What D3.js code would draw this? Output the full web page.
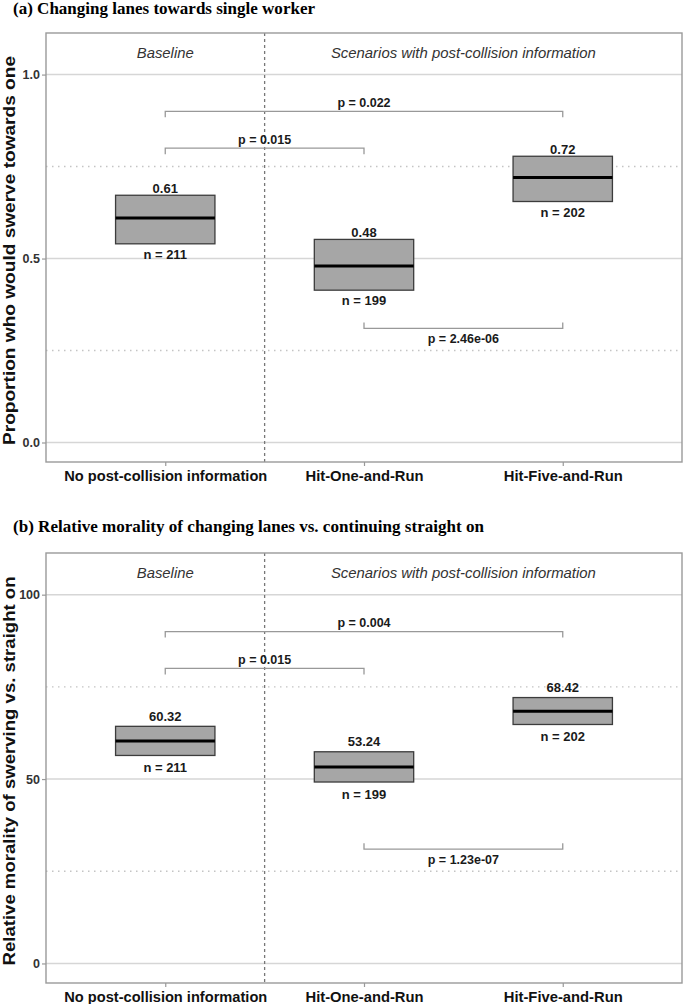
<!DOCTYPE html>
<html><head><meta charset="utf-8">
<script src="https://cdn.jsdelivr.net/npm/d3@7"></script>
<style>body{margin:0;background:#fff}</style>
</head><body><svg id="c" width="685" height="1004"></svg>
<script>
// ---------- data ----------
const categories = ["No post-collision information", "Hit-One-and-Run", "Hit-Five-and-Run"];
const nLabels = ["n = 211", "n = 199", "n = 202"];
const groupLabels = ["Baseline", "Scenarios with post-collision information"];

// panel (a)
const aTitle = "(a) Changing lanes towards single worker";
const aYTitle = "Proportion who would swerve towards one";
const aMean = [0.61, 0.48, 0.72];
const aLower = [0.54, 0.414, 0.655];
const aUpper = [0.672, 0.552, 0.778];
const aMeanLabels = ["0.61", "0.48", "0.72"];
const aLimits = [0, 1.06];
const aTicks = [0, 0.5, 1.0];
const aTickLabels = ["0.0", "0.5", "1.0"];
const aMinor = [0.25, 0.75];
const aPFrom = [0, 0, 1];
const aPTo = [2, 1, 2];
const aPY = [0.9, 0.8, 0.31];
const aPLabels = ["p = 0.022", "p = 0.015", "p = 2.46e-06"];
const aPSide = ["above", "above", "below"];

// panel (b)
const bTitle = "(b) Relative morality of changing lanes vs. continuing straight on";
const bYTitle = "Relative morality of swerving vs. straight on";
const bMean = [60.32, 53.24, 68.42];
const bLower = [56.4, 49.2, 64.8];
const bUpper = [64.3, 57.4, 72.1];
const bMeanLabels = ["60.32", "53.24", "68.42"];
const bLimits = [0, 106];
const bTicks = [0, 50, 100];
const bTickLabels = ["0", "50", "100"];
const bMinor = [25, 75];
const bPFrom = [0, 0, 1];
const bPTo = [2, 1, 2];
const bPY = [90, 80, 31];
const bPLabels = ["p = 0.004", "p = 0.015", "p = 1.23e-07"];
const bPSide = ["above", "above", "below"];

// ---------- drawing ----------
const svg = d3.select("#c");
svg.append("rect").attr("width", 685).attr("height", 1004).attr("fill", "#fff");
const SANS = "'Liberation Sans', Arial, Helvetica, sans-serif";
const SERIF = "'Liberation Serif', 'Times New Roman', serif";
const fit = (sel, len) => sel.attr("textLength", len).attr("lengthAdjust", "spacingAndGlyphs");

function panel(o) {
  const L = 46, R = 682;
  const x = d3.scalePoint().domain(categories).range([L, R]).padding(0.6);
  const step = x.step();
  const span = o.limits[1] - o.limits[0];
  const y = d3.scaleLinear()
    .domain([o.limits[0] - 0.05 * span, o.limits[1] + 0.05 * span])
    .range([o.bottom, o.top]);
  const g = svg.append("g");

  // title
  g.append("text").attr("x", 13).attr("y", o.titleY)
    .attr("font-family", SERIF).attr("font-weight", "bold").attr("font-size", 17)
    .attr("fill", "#000").text(o.title).call(fit, o.titleLen);

  // grid
  g.selectAll(null).data(o.ticks).join("line")
    .attr("x1", L).attr("x2", R).attr("y1", d => y(d)).attr("y2", d => y(d))
    .attr("stroke", "#d6d6d6").attr("stroke-width", 1.5);
  g.selectAll(null).data(o.minor).join("line")
    .attr("x1", L).attr("x2", R).attr("y1", d => y(d)).attr("y2", d => y(d))
    .attr("stroke", "#c4c4c4").attr("stroke-width", 1.4).attr("stroke-dasharray", "1.5,4.5");

  // vertical dashed separator
  const xd = (x(categories[0]) + x(categories[1])) / 2;
  g.append("line").attr("x1", xd).attr("x2", xd).attr("y1", o.top).attr("y2", o.bottom)
    .attr("stroke", "#777").attr("stroke-width", 1.3).attr("stroke-dasharray", "3,3");

  // group annotations
  const annX = [x(categories[0]), (x(categories[1]) + x(categories[2])) / 2];
  const annW = [57, 265];
  g.selectAll(null).data(groupLabels).join("text")
    .attr("x", (d, i) => annX[i]).attr("y", y(o.limits[1]) + 5)
    .attr("text-anchor", "middle").attr("font-family", SANS).attr("font-style", "italic")
    .attr("font-size", 14.5).attr("fill", "#333").text(d => d)
    .each(function (d, i) { fit(d3.select(this), annW[i]); });

  // boxes
  const bw = step * 0.5;
  g.selectAll(null).data(categories).join("rect")
    .attr("x", d => x(d) - bw / 2).attr("width", bw)
    .attr("y", (d, i) => y(o.upper[i])).attr("height", (d, i) => y(o.lower[i]) - y(o.upper[i]))
    .attr("fill", "#a6a6a6").attr("stroke", "#3c3c3c").attr("stroke-width", 1.3);
  g.selectAll(null).data(categories).join("line")
    .attr("x1", d => x(d) - bw / 2).attr("x2", d => x(d) + bw / 2)
    .attr("y1", (d, i) => y(o.mean[i])).attr("y2", (d, i) => y(o.mean[i]))
    .attr("stroke", "#000").attr("stroke-width", 3);

  // box labels
  g.selectAll(null).data(categories).join("text")
    .attr("x", d => x(d)).attr("y", (d, i) => y(o.upper[i]) - o.meanGap)
    .attr("text-anchor", "middle").attr("font-family", SANS).attr("font-weight", "bold")
    .attr("font-size", 13).attr("fill", "#1a1a1a").text((d, i) => o.meanLabels[i]);
  g.selectAll(null).data(categories).join("text")
    .attr("x", d => x(d)).attr("y", (d, i) => y(o.lower[i]) + o.nGap)
    .attr("text-anchor", "middle").attr("font-family", SANS).attr("font-weight", "bold")
    .attr("font-size", 13).attr("fill", "#1a1a1a").text((d, i) => nLabels[i]);

  // significance brackets
  const tip = 6;
  o.pLabels.forEach((lab, i) => {
    const x1 = x(categories[o.pFrom[i]]), x2 = x(categories[o.pTo[i]]);
    const yy = y(o.pY[i]);
    const t = o.pSide[i] === "above" ? tip : -tip;
    g.append("path")
      .attr("d", d3.line()([[x1, yy + t], [x1, yy], [x2, yy], [x2, yy + t]]))
      .attr("fill", "none").attr("stroke", "#999").attr("stroke-width", 1.3);
    g.append("text").attr("x", (x1 + x2) / 2)
      .attr("y", o.pSide[i] === "above" ? yy - 4.5 : yy + 14.5)
      .attr("text-anchor", "middle").attr("font-family", SANS).attr("font-weight", "bold")
      .attr("font-size", 12.5).attr("fill", "#1a1a1a").text(lab);
  });

  // axes
  const ya = g.append("g").attr("transform", `translate(${L},0)`)
    .call(d3.axisLeft(y).tickValues(o.ticks).tickFormat((d, i) => o.tickLabels[i]).tickSize(4).tickPadding(2));
  ya.select(".domain").remove();
  ya.selectAll(".tick line").attr("stroke", "#999").attr("stroke-width", 1.2);
  ya.selectAll(".tick text").attr("font-family", SANS).attr("font-weight", "bold")
    .attr("font-size", 12.5).attr("fill", "#333");

  const xa = g.append("g").attr("transform", `translate(0,${o.bottom})`)
    .call(d3.axisBottom(x).tickSize(4).tickPadding(4));
  xa.select(".domain").remove();
  const xw = [203, 118, 119];
  xa.selectAll(".tick line").attr("stroke", "#999").attr("stroke-width", 1.2);
  xa.selectAll(".tick text").attr("font-family", SANS).attr("font-weight", "bold")
    .attr("font-size", 15.5).attr("fill", "#111")
    .each(function (d, i) { fit(d3.select(this), xw[i]); });

  // y title
  g.append("text")
    .attr("transform", `translate(15,${(o.top + o.bottom) / 2 + 3}) rotate(-90)`)
    .attr("text-anchor", "middle").attr("font-family", SANS).attr("font-weight", "bold")
    .attr("font-size", 16).attr("fill", "#111").text(o.yTitle).call(fit, 389);

  // frame
  g.append("rect").attr("x", L).attr("y", o.top).attr("width", R - L).attr("height", o.bottom - o.top)
    .attr("fill", "none").attr("stroke", "#9a9a9a").attr("stroke-width", 1.4);
}

panel({
  title: aTitle, titleY: 14, titleLen: 302, yTitle: aYTitle,
  top: 33, bottom: 462, limits: aLimits, ticks: aTicks, tickLabels: aTickLabels, minor: aMinor,
  mean: aMean, lower: aLower, upper: aUpper, meanLabels: aMeanLabels,
  pFrom: aPFrom, pTo: aPTo, pY: aPY, pLabels: aPLabels, pSide: aPSide,
  meanGap: 2, nGap: 15
});
panel({
  title: bTitle, titleY: 532, titleLen: 471, yTitle: bYTitle,
  top: 553, bottom: 983, limits: bLimits, ticks: bTicks, tickLabels: bTickLabels, minor: bMinor,
  mean: bMean, lower: bLower, upper: bUpper, meanLabels: bMeanLabels,
  pFrom: bPFrom, pTo: bPTo, pY: bPY, pLabels: bPLabels, pSide: bPSide,
  meanGap: 5.5, nGap: 17
});
</script></body></html>
